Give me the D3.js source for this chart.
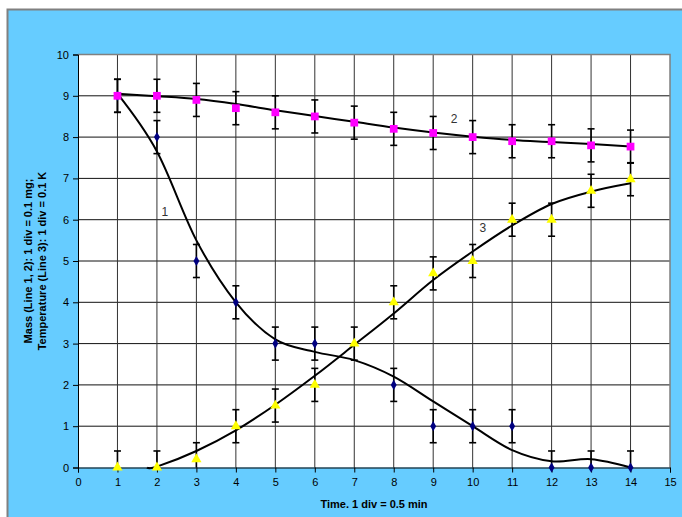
<!DOCTYPE html>
<html><head><meta charset="utf-8">
<script src="https://cdn.jsdelivr.net/npm/d3@7/dist/d3.min.js"></script>
<style>body{margin:0;background:#fff;}svg{display:block;font-family:"Liberation Sans",Arial,sans-serif;}</style>
</head><body>
<script>
// ---- data ----
const xs = [1,2,3,4,5,6,7,8,9,10,11,12,13,14];
const massLine1 = [9,8,5,4,3,3,null,2,1,1,1,0,0,0];
const massLine2 = [9,9,8.9,8.7,8.6,8.5,8.35,8.2,8.1,8.0,7.9,7.9,7.8,7.77];
const tempLine3 = [0,0,0.2,1,1.5,2,3,4,4.7,5,6,6,6.7,6.98];
const errorValue = 0.4;
const fit1X = [1,2,3,4,5,6,7,8,9,10,11,12,13,14];
const fit1Y = [9.05,7.65,5.5,4.0,3.1,2.8,2.6,2.2,1.6,1.0,0.42,0.15,0.2,0];
const fit2X = [1,2,3,4,5,6,7,8,9,10,11,12,13,14];
const fit2Y = [9.05,8.99,8.92,8.8,8.65,8.51,8.37,8.23,8.11,8.01,7.93,7.88,7.83,7.77];
const fit3X = [1.75,2,3,4,5,6,7,8,9,10,11,12,13,14];
const fit3Y = [0,0.02,0.4,0.9,1.52,2.22,2.97,3.73,4.54,5.23,5.86,6.38,6.68,6.88];
const xTicks = d3.range(0,16);
const yTicks = d3.range(0,11);
const curveLabels = [{t:"1",x:2.2,y:6.1},{t:"2",x:9.53,y:8.34},{t:"3",x:10.26,y:5.7}];
const xTitle = "Time. 1 div = 0.5 min";
const yTitle1 = "Mass (Line 1, 2): 1 div = 0.1 mg;";
const yTitle2 = "Temperature (Line 3): 1 div = 0.1 K";

const W = 682, H = 517;
const svg = d3.select("body").append("svg").attr("width",W).attr("height",H);
svg.append("rect").attr("x",7.5).attr("y",9.5).attr("width",W+20).attr("height",H+20)
  .attr("fill","#66CCFF").attr("stroke","#808080").attr("stroke-width",2);

const L=78, R=670, T=54.5, B=467.5;
const x = d3.scaleLinear().domain([0,15]).range([L,R]);
const y = d3.scaleLinear().domain([0,10]).range([B,T]);

svg.append("rect").attr("x",L).attr("y",T).attr("width",R-L).attr("height",B-T).attr("fill","#fff");

// gridlines
svg.append("g").selectAll("line").data(yTicks.filter(d=>d>0)).join("line")
  .attr("x1",L).attr("x2",R).attr("y1",d=>y(d)).attr("y2",d=>y(d))
  .attr("stroke","#111").attr("stroke-width",1);
svg.append("g").selectAll("line").data(xTicks.filter(d=>d>0&&d<15)).join("line")
  .attr("y1",T).attr("y2",B).attr("x1",d=>x(d)).attr("x2",d=>x(d))
  .attr("stroke","#333").attr("stroke-width",1);
// plot border
svg.append("path").attr("d",`M${L},${T}H${R}V${B}`).attr("fill","none").attr("stroke","#808080").attr("stroke-width",1.5);

// axes
const xa = svg.append("g").attr("transform",`translate(0,${B})`)
  .call(d3.axisBottom(x).tickValues(xTicks).tickSize(5).tickPadding(6).tickFormat(d3.format("d")));
const ya = svg.append("g").attr("transform",`translate(${L},0)`)
  .call(d3.axisLeft(y).tickValues(yTicks).tickSize(5).tickPadding(4).tickFormat(d3.format("d")));
[xa,ya].forEach(a=>{a.selectAll("path,line").attr("stroke","#000");a.selectAll("text").attr("font-size",11).attr("fill","#000").attr("font-family","Liberation Sans, Arial, sans-serif");});

// fitted curves
const line = d3.line().x(d=>x(d[0])).y(d=>y(d[1])).curve(d3.curveCardinal.tension(0));
const gC = svg.append("g").attr("fill","none").attr("stroke","#000").attr("stroke-width",2);
gC.append("path").attr("d",line(fit1X.map((v,i)=>[v,fit1Y[i]])));
gC.append("path").attr("d",line(fit2X.map((v,i)=>[v,fit2Y[i]])));
gC.append("path").attr("d",line(fit3X.map((v,i)=>[v,fit3Y[i]])));

// error bars
function errBars(vals){
  const g = svg.append("g").attr("stroke","#000").attr("stroke-width",1.6);
  xs.forEach((xv,i)=>{
    const v = vals[i]; if(v==null) return;
    const lo = Math.max(0,v-errorValue), hi = v+errorValue;
    const cx = x(xv);
    g.append("line").attr("x1",cx).attr("x2",cx).attr("y1",y(lo)).attr("y2",y(hi));
    g.append("line").attr("x1",cx-3.5).attr("x2",cx+3.5).attr("y1",y(hi)).attr("y2",y(hi));
    if(v-errorValue>=0) g.append("line").attr("x1",cx-3.5).attr("x2",cx+3.5).attr("y1",y(lo)).attr("y2",y(lo));
  });
}
errBars(massLine1); errBars(massLine2); errBars(tempLine3);

function markers(vals,type,size,color){
  svg.append("g").selectAll("path").data(xs.map((v,i)=>[v,vals[i]]).filter(d=>d[1]!=null)).join("path")
    .attr("transform",d=>`translate(${x(d[0])},${y(d[1])})`)
    .attr("d",d3.symbol().type(type).size(size)).attr("fill",color);
}
markers(massLine1,d3.symbolDiamond,30,"#000080");
markers(massLine2,d3.symbolSquare,60,"#FF00FF");
markers(tempLine3,d3.symbolTriangle,45,"#FFFF00");

// curve labels
svg.append("g").selectAll("text").data(curveLabels).join("text")
  .attr("x",d=>x(d.x)).attr("y",d=>y(d.y)).attr("font-size",12).attr("fill","#333")
  .attr("text-anchor","middle").text(d=>d.t);

// titles
svg.append("text").attr("x",(L+R)/2).attr("y",508).attr("text-anchor","middle")
  .attr("font-size",11).attr("font-weight","bold").text(xTitle);
const cy = (T+B)/2;
svg.append("text").attr("transform",`translate(32,${cy}) rotate(-90)`).attr("text-anchor","middle")
  .attr("font-size",11).attr("font-weight","bold").text(yTitle1);
svg.append("text").attr("transform",`translate(46,${cy}) rotate(-90)`).attr("text-anchor","middle")
  .attr("font-size",11).attr("font-weight","bold").text(yTitle2);
</script>
</body></html>
